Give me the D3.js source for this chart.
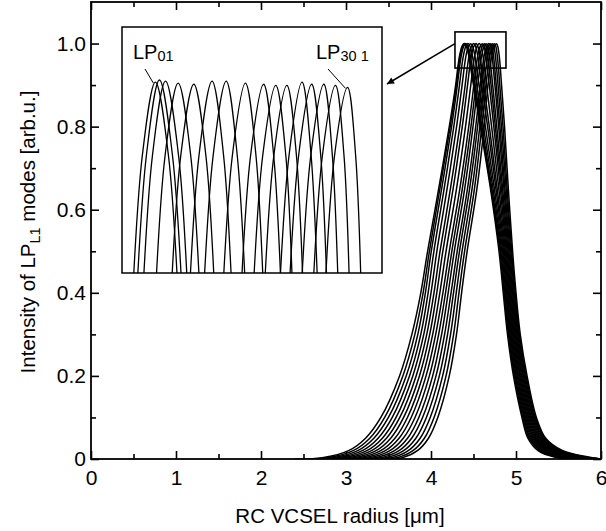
<!DOCTYPE html>
<html>
<head>
<meta charset="utf-8">
<style>
  body { margin: 0; background: #fff; }
  svg { display: block; }
  text { font-family: "Liberation Sans", Arial, Helvetica, sans-serif; fill: #000; }
</style>
</head>
<body>
<div id="container"></div>
<script src="https://cdn.jsdelivr.net/npm/d3@7"></script>
<script>
// ---- data ----
// LP_L1 modes, L = 0, 2, ... 30
const modeL = [0, 2, 4, 6, 8, 10, 12, 14, 16, 18, 20, 22, 24, 26, 28, 30];

// peak of each mode (radius in um, intensity)
const peakX = [4.390, 4.398, 4.410, 4.435, 4.466, 4.502, 4.530, 4.568,
               4.604, 4.628, 4.650, 4.680, 4.699, 4.723, 4.746, 4.770];
const peakY = [1.0000, 1.0002, 1.0001, 0.9999, 0.9998, 1.0001, 1.0001, 0.9999,
               0.9998, 0.9997, 0.9997, 1.0000, 0.9998, 0.9998, 0.9997, 0.9995];

// rising flank: radius where each mode reaches these intensities
const leftLevels = [0, 0.003, 0.02, 0.05, 0.1, 0.2, 0.3, 0.4, 0.5, 0.65, 0.8, 0.9, 0.95, 0.975, 0.993];
const leftX = [
  [2.400, 2.720, 3.030, 3.230, 3.410, 3.630, 3.775, 3.880, 3.960, 4.090, 4.215, 4.290, 4.320, 4.340, 4.364],
  [2.470, 2.783, 3.084, 3.280, 3.455, 3.669, 3.810, 3.907, 3.981, 4.104, 4.226, 4.298, 4.328, 4.348, 4.372],
  [2.540, 2.845, 3.138, 3.328, 3.499, 3.708, 3.845, 3.934, 4.003, 4.125, 4.242, 4.310, 4.340, 4.360, 4.384],
  [2.610, 2.908, 3.192, 3.378, 3.544, 3.747, 3.880, 3.966, 4.034, 4.154, 4.268, 4.335, 4.365, 4.385, 4.409],
  [2.680, 2.971, 3.246, 3.428, 3.589, 3.786, 3.915, 4.000, 4.069, 4.189, 4.301, 4.366, 4.396, 4.416, 4.440],
  [2.750, 3.033, 3.300, 3.476, 3.633, 3.825, 3.950, 4.035, 4.106, 4.228, 4.338, 4.402, 4.432, 4.452, 4.476],
  [2.820, 3.096, 3.354, 3.526, 3.678, 3.864, 3.985, 4.068, 4.139, 4.260, 4.368, 4.430, 4.460, 4.480, 4.504],
  [2.890, 3.159, 3.408, 3.576, 3.723, 3.903, 4.020, 4.104, 4.177, 4.300, 4.406, 4.468, 4.498, 4.518, 4.542],
  [2.960, 3.221, 3.462, 3.624, 3.767, 3.942, 4.055, 4.140, 4.215, 4.339, 4.444, 4.504, 4.534, 4.554, 4.578],
  [3.030, 3.284, 3.516, 3.674, 3.812, 3.981, 4.090, 4.171, 4.245, 4.368, 4.470, 4.528, 4.558, 4.578, 4.602],
  [3.100, 3.347, 3.570, 3.724, 3.857, 4.020, 4.125, 4.202, 4.274, 4.396, 4.494, 4.550, 4.580, 4.600, 4.624],
  [3.170, 3.409, 3.624, 3.772, 3.901, 4.059, 4.160, 4.236, 4.308, 4.429, 4.526, 4.580, 4.610, 4.630, 4.654],
  [3.240, 3.472, 3.678, 3.822, 3.946, 4.098, 4.195, 4.265, 4.335, 4.454, 4.548, 4.599, 4.629, 4.649, 4.673],
  [3.310, 3.535, 3.732, 3.872, 3.991, 4.137, 4.230, 4.297, 4.365, 4.483, 4.574, 4.623, 4.653, 4.673, 4.697],
  [3.382, 3.599, 3.787, 3.922, 4.036, 4.177, 4.266, 4.329, 4.395, 4.511, 4.598, 4.646, 4.676, 4.696, 4.720],
  [3.450, 3.660, 3.840, 3.970, 4.080, 4.215, 4.300, 4.360, 4.425, 4.540, 4.625, 4.670, 4.700, 4.720, 4.744]
];

// falling flank
const rightLevels = [0.993, 0.975, 0.95, 0.9, 0.8, 0.65, 0.5, 0.4, 0.3, 0.2, 0.1, 0.05, 0.02, 0.005, 0];
const rightX = [
  [4.416, 4.440, 4.460, 4.500, 4.580, 4.700, 4.800, 4.850, 4.900, 4.970, 5.070, 5.140, 5.260, 5.450, 6.0],
  [4.424, 4.448, 4.467, 4.507, 4.588, 4.707, 4.811, 4.860, 4.910, 4.981, 5.081, 5.154, 5.279, 5.477, 6.0],
  [4.436, 4.459, 4.479, 4.518, 4.599, 4.716, 4.821, 4.870, 4.920, 4.991, 5.093, 5.168, 5.299, 5.503, 6.0],
  [4.460, 4.483, 4.502, 4.539, 4.617, 4.730, 4.832, 4.880, 4.930, 5.002, 5.104, 5.182, 5.318, 5.530, 6.0],
  [4.490, 4.512, 4.530, 4.566, 4.640, 4.746, 4.843, 4.890, 4.940, 5.013, 5.115, 5.196, 5.337, 5.557, 6.0],
  [4.525, 4.546, 4.564, 4.597, 4.666, 4.764, 4.853, 4.900, 4.950, 5.023, 5.127, 5.210, 5.357, 5.583, 6.0],
  [4.552, 4.573, 4.590, 4.621, 4.686, 4.779, 4.864, 4.910, 4.960, 5.034, 5.138, 5.224, 5.376, 5.610, 6.0],
  [4.589, 4.608, 4.625, 4.654, 4.713, 4.798, 4.875, 4.920, 4.970, 5.045, 5.149, 5.238, 5.395, 5.637, 6.0],
  [4.624, 4.643, 4.658, 4.686, 4.739, 4.816, 4.885, 4.930, 4.980, 5.055, 5.161, 5.252, 5.415, 5.663, 6.0],
  [4.648, 4.665, 4.680, 4.707, 4.757, 4.830, 4.896, 4.940, 4.990, 5.066, 5.172, 5.266, 5.434, 5.690, 6.0],
  [4.669, 4.686, 4.701, 4.726, 4.774, 4.843, 4.907, 4.950, 5.000, 5.077, 5.183, 5.280, 5.453, 5.717, 6.0],
  [4.698, 4.715, 4.729, 4.752, 4.796, 4.858, 4.917, 4.960, 5.010, 5.087, 5.195, 5.294, 5.473, 5.743, 6.0],
  [4.717, 4.733, 4.746, 4.768, 4.811, 4.870, 4.928, 4.970, 5.020, 5.098, 5.206, 5.308, 5.492, 5.770, 6.0],
  [4.740, 4.755, 4.768, 4.789, 4.829, 4.884, 4.939, 4.980, 5.030, 5.109, 5.217, 5.322, 5.511, 5.797, 6.0],
  [4.763, 4.777, 4.790, 4.809, 4.847, 4.896, 4.949, 4.990, 5.040, 5.119, 5.229, 5.336, 5.530, 5.823, 6.0],
  [4.786, 4.800, 4.812, 4.830, 4.865, 4.910, 4.960, 5.000, 5.050, 5.130, 5.240, 5.350, 5.550, 5.850, 6.0]
];

const xTicks = [0, 1, 2, 3, 4, 5, 6];
const xMinor = [0.5, 1.5, 2.5, 3.5, 4.5, 5.5];
const yTicks = [0, 0.2, 0.4, 0.6, 0.8, 1.0];
const yMinor = [0.1, 0.3, 0.5, 0.7, 0.9];

// zoomed region marked on the main plot, and what the inset shows
const zoomBoxX = [4.282, 4.882];
const zoomBoxY = [0.941, 1.028];
const insetXDomain = [4.324, 4.838];
const insetYDomain = [0.982, 1.0052];

// ---- layout ----
const W = 606, H = 531;
const plot = { left: 91, right: 601, top: 2, bottom: 459 };
const inset = { left: 122, right: 382, top: 27, bottom: 273 };

const svg = d3.select("#container").append("svg")
    .attr("width", W)
    .attr("height", H);

const x = d3.scaleLinear().domain([0, 6]).range([plot.left, plot.right]);
const y = d3.scaleLinear().domain([0, 1.1]).range([plot.bottom, plot.top]);

// build the point list for each mode
const modes = modeL.map((L, i) => {
    const pts = leftLevels.map((lv, j) => [leftX[i][j], lv]);
    pts.push([peakX[i], peakY[i]]);
    rightLevels.forEach((lv, j) => pts.push([rightX[i][j], lv]));
    return { L: L, pts: pts };
});

svg.append("defs").append("clipPath").attr("id", "plotClip")
    .append("rect")
    .attr("x", plot.left).attr("y", plot.top)
    .attr("width", plot.right - plot.left).attr("height", plot.bottom - plot.top);

svg.select("defs").append("clipPath").attr("id", "insetClip")
    .append("rect")
    .attr("x", inset.left).attr("y", inset.top)
    .attr("width", inset.right - inset.left).attr("height", inset.bottom - inset.top);

svg.select("defs").append("marker")
    .attr("id", "arrowHead")
    .attr("viewBox", "0 0 10 10")
    .attr("refX", 10).attr("refY", 5)
    .attr("markerWidth", 10).attr("markerHeight", 7)
    .attr("markerUnits", "userSpaceOnUse")
    .attr("orient", "auto")
    .append("path")
    .attr("d", "M0,0L10,5L0,10z")
    .attr("fill", "#000");

// main curves
const line = d3.line()
    .x(d => x(d[0]))
    .y(d => y(d[1]))
    .curve(d3.curveCatmullRom.alpha(0.5));

svg.append("g")
    .attr("clip-path", "url(#plotClip)")
    .selectAll("path")
    .data(modes)
    .join("path")
    .attr("d", d => line(d.pts))
    .attr("fill", "none")
    .attr("stroke", "#000")
    .attr("stroke-width", 1.5);

// axes: ticks point inward on all four sides
function styleAxis(g) {
    g.select(".domain").remove();
    g.selectAll(".tick line").attr("stroke", "#000").attr("stroke-width", 1.6);
    g.selectAll("text")
        .attr("font-family", "'Liberation Sans', Arial, sans-serif")
        .attr("font-size", 21)
        .attr("fill", "#000");
}

svg.append("g")
    .attr("transform", `translate(0,${plot.bottom})`)
    .call(d3.axisBottom(x).tickValues(xTicks).tickSize(-8).tickPadding(11).tickFormat(d3.format("d")))
    .call(styleAxis);
svg.append("g")
    .attr("transform", `translate(0,${plot.bottom})`)
    .call(d3.axisBottom(x).tickValues(xMinor).tickSize(-5).tickFormat(""))
    .call(styleAxis);
svg.append("g")
    .attr("transform", `translate(0,${plot.top})`)
    .call(d3.axisTop(x).tickValues(xTicks).tickSize(-8).tickFormat(""))
    .call(styleAxis);
svg.append("g")
    .attr("transform", `translate(0,${plot.top})`)
    .call(d3.axisTop(x).tickValues(xMinor).tickSize(-5).tickFormat(""))
    .call(styleAxis);

svg.append("g")
    .attr("transform", `translate(${plot.left},0)`)
    .call(d3.axisLeft(y).tickValues(yTicks).tickSize(-8).tickPadding(5)
        .tickFormat(d => d === 0 ? "0" : d.toFixed(1)))
    .call(styleAxis);
svg.append("g")
    .attr("transform", `translate(${plot.left},0)`)
    .call(d3.axisLeft(y).tickValues(yMinor).tickSize(-5).tickFormat(""))
    .call(styleAxis);
svg.append("g")
    .attr("transform", `translate(${plot.right},0)`)
    .call(d3.axisRight(y).tickValues(yTicks).tickSize(-8).tickFormat(""))
    .call(styleAxis);
svg.append("g")
    .attr("transform", `translate(${plot.right},0)`)
    .call(d3.axisRight(y).tickValues(yMinor).tickSize(-5).tickFormat(""))
    .call(styleAxis);

// frame
svg.append("rect")
    .attr("x", plot.left).attr("y", plot.top)
    .attr("width", plot.right - plot.left).attr("height", plot.bottom - plot.top)
    .attr("fill", "none")
    .attr("stroke", "#000")
    .attr("stroke-width", 1.8);

// axis titles
svg.append("text")
    .attr("x", (plot.left + plot.right) / 2 - 6)
    .attr("y", 523)
    .attr("text-anchor", "middle")
    .attr("font-size", 20.5)
    .text("RC VCSEL radius [\u03bcm]");

const yTitle = svg.append("text")
    .attr("transform", "translate(35,232) rotate(-90)")
    .attr("text-anchor", "middle")
    .attr("font-size", 20.5);
yTitle.append("tspan").text("Intensity of LP");
yTitle.append("tspan").attr("dy", 5).attr("font-size", 14.5).text("L1");
yTitle.append("tspan").attr("dy", -5).text(" modes [arb.u.]");

// zoom box on main plot
svg.append("rect")
    .attr("x", x(zoomBoxX[0])).attr("y", y(zoomBoxY[1]))
    .attr("width", x(zoomBoxX[1]) - x(zoomBoxX[0]))
    .attr("height", y(zoomBoxY[0]) - y(zoomBoxY[1]))
    .attr("fill", "none")
    .attr("stroke", "#000")
    .attr("stroke-width", 1.6);

// arrow from box to inset
svg.append("line")
    .attr("x1", x(zoomBoxX[0])).attr("y1", y(1.0))
    .attr("x2", inset.right + 5).attr("y2", 84)
    .attr("stroke", "#000")
    .attr("stroke-width", 1.5)
    .attr("marker-end", "url(#arrowHead)");

// inset
const xi = d3.scaleLinear().domain(insetXDomain).range([inset.left, inset.right]);
const yi = d3.scaleLinear().domain(insetYDomain).range([inset.bottom, inset.top]);

const insetLine = d3.line()
    .x(d => xi(d[0]))
    .y(d => yi(d[1]))
    .curve(d3.curveCatmullRom.alpha(0.5));

svg.append("rect")
    .attr("x", inset.left).attr("y", inset.top)
    .attr("width", inset.right - inset.left).attr("height", inset.bottom - inset.top)
    .attr("fill", "#fff");

svg.append("g")
    .attr("clip-path", "url(#insetClip)")
    .selectAll("path")
    .data(modes)
    .join("path")
    .attr("d", d => insetLine(d.pts.filter(p => p[1] > 0.9)))
    .attr("fill", "none")
    .attr("stroke", "#000")
    .attr("stroke-width", 1.3);

svg.append("rect")
    .attr("x", inset.left).attr("y", inset.top)
    .attr("width", inset.right - inset.left).attr("height", inset.bottom - inset.top)
    .attr("fill", "none")
    .attr("stroke", "#000")
    .attr("stroke-width", 1.5);

// mode labels inside the inset
function modeLabel(tx, sub, px, py) {
    const t = svg.append("text")
        .attr("x", tx).attr("y", 59)
        .attr("font-size", 20);
    t.append("tspan").text("LP");
    t.append("tspan").attr("dy", 2).attr("font-size", 14.5).text(sub);
    svg.append("line")
        .attr("x1", tx + 12).attr("y1", 69)
        .attr("x2", px).attr("y2", py)
        .attr("stroke", "#000")
        .attr("stroke-width", 1);
}
modeLabel(133, "01", xi(peakX[0]) - 2, yi(peakY[0]) + 1);
modeLabel(316, "30 1", xi(peakX[15]) - 2, yi(peakY[15]) + 1);
</script>
</body>
</html>
